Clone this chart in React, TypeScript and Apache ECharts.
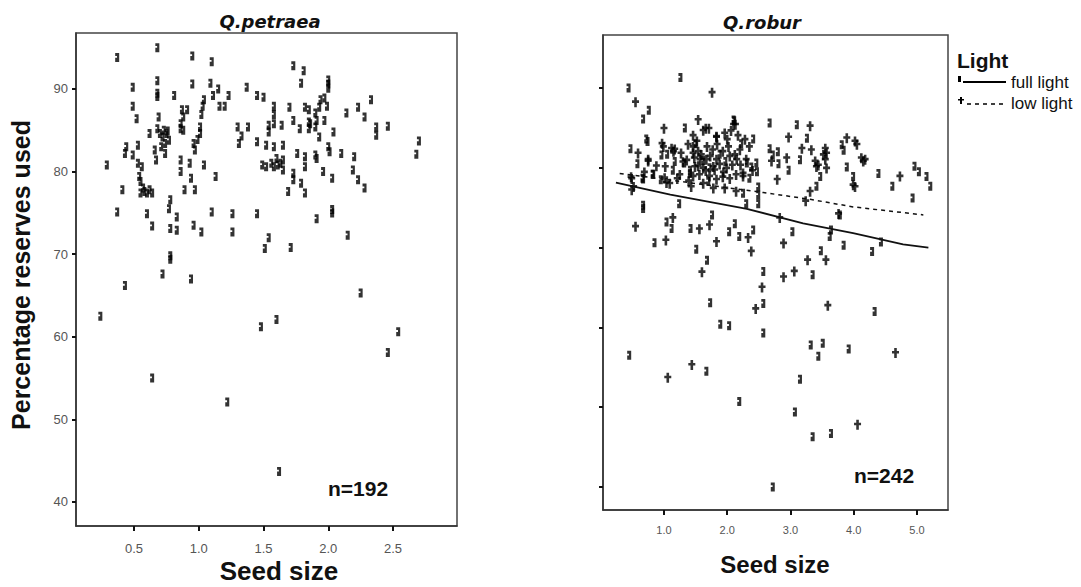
import React, { useEffect, useRef } from "react";
import * as echarts from "echarts";

// Q.petraea: [seed size, percentage reserves used]
const petraeaPoints: number[][] = [
  [0.37, 93.8], [0.68, 95.0], [0.95, 94.0], [1.10, 93.3], [1.73, 92.8], [1.81, 92.2], [1.79, 90.7], [2.00, 91.1], [2.00, 90.1], [2.00, 90.6],
  [0.49, 90.2], [0.68, 91.0], [0.68, 89.1], [0.68, 89.5], [0.81, 89.2], [0.95, 90.6], [1.09, 90.7], [1.11, 89.2], [1.15, 90.0], [1.23, 89.2],
  [1.37, 90.2], [1.45, 89.2], [1.50, 89.0], [1.04, 88.7], [1.03, 87.9], [1.02, 86.9], [1.16, 87.9], [1.20, 87.9], [0.49, 87.9], [0.52, 86.4],
  [0.69, 86.6], [0.87, 87.5], [0.91, 87.5], [0.88, 86.6], [0.86, 85.8], [1.58, 87.9], [1.58, 86.9], [1.70, 87.8], [1.82, 87.8], [1.85, 87.5],
  [1.94, 88.7], [1.97, 88.9], [1.93, 87.8], [1.99, 87.9], [2.14, 87.1], [2.23, 87.8], [2.28, 86.6], [2.33, 88.7], [2.37, 85.4], [2.37, 84.4],
  [2.46, 85.5], [2.70, 83.7], [2.68, 82.1], [0.62, 84.6], [0.68, 85.2], [0.70, 84.6], [0.73, 85.0], [0.75, 84.6], [0.77, 83.8], [0.74, 83.4],
  [0.71, 83.0], [0.86, 85.2], [0.88, 85.0], [1.01, 85.4], [1.01, 84.6], [0.96, 83.4], [0.97, 82.6], [1.30, 85.4], [1.38, 85.4], [1.33, 84.3],
  [1.31, 83.4], [1.54, 85.6], [1.58, 85.8], [1.64, 85.6], [1.54, 84.8], [1.73, 86.2], [1.78, 85.2], [1.85, 85.2], [1.90, 87.1], [1.91, 86.2],
  [1.90, 85.4], [1.97, 86.2], [1.93, 84.2], [2.04, 84.8], [1.45, 83.6], [1.52, 83.2], [1.58, 83.0], [1.65, 83.2], [0.44, 83.0], [0.43, 82.2],
  [0.49, 82.0], [0.53, 83.2], [0.66, 82.6], [0.67, 81.4], [0.74, 82.2], [0.29, 80.8], [0.53, 81.0], [0.56, 80.6], [0.54, 79.4], [0.55, 78.8],
  [0.86, 81.4], [0.86, 80.0], [0.93, 81.0], [0.94, 79.2], [1.04, 80.8], [1.13, 79.4], [1.49, 80.8], [1.52, 80.6], [1.58, 80.6], [1.60, 81.6],
  [1.63, 81.0], [1.65, 81.4], [1.65, 80.2], [1.73, 79.8], [1.73, 79.0], [1.76, 82.2], [1.82, 81.8], [1.82, 80.6], [1.90, 82.0], [1.91, 81.6],
  [2.00, 83.0], [2.01, 82.4], [2.10, 82.2], [2.20, 81.8], [1.96, 80.0], [2.03, 79.2], [2.19, 80.2], [2.23, 79.0], [2.28, 78.0], [1.69, 77.6],
  [1.79, 78.6], [1.82, 77.4], [0.41, 77.8], [0.55, 77.4], [0.60, 77.4], [0.64, 77.4], [0.57, 78.0], [0.89, 77.8], [0.97, 77.8], [0.78, 76.6],
  [0.77, 75.5], [0.37, 75.1], [0.60, 74.9], [0.64, 73.4], [0.83, 74.5], [0.78, 73.1], [0.83, 72.9], [0.96, 73.5], [1.02, 72.7], [1.10, 75.1],
  [1.26, 74.9], [1.26, 72.7], [1.45, 74.9], [1.54, 72.0], [1.51, 70.7], [1.71, 70.8], [1.91, 74.3], [2.03, 75.0], [2.03, 75.4], [2.15, 72.3],
  [0.78, 69.4], [0.78, 69.8], [0.72, 67.6], [0.94, 67.0], [0.43, 66.2], [2.25, 65.3], [0.24, 62.5], [1.48, 61.2], [1.60, 62.1], [2.54, 60.6],
  [2.46, 58.1], [0.64, 55.0], [1.22, 52.1], [1.62, 43.7],
  [0.72, 84.2], [0.76, 84.9], [0.99, 83.9], [1.56, 81.0], [1.61, 80.8], [1.85, 86.0], [1.86, 85.8], [0.58, 77.6], [0.62, 77.8]
];

// Q.robur, full light
const roburFullPoints: number[][] = [
  [1.26, 91.3], [0.44, 90.0], [0.76, 87.2], [0.67, 86.1], [2.11, 85.9], [2.67, 85.6], [1.33, 85.0], [2.41, 83.6], [0.72, 83.6], [0.47, 82.4],
  [0.96, 81.6], [1.17, 80.8], [2.46, 80.6], [2.47, 79.5], [2.67, 82.4], [2.72, 81.6], [1.14, 79.7], [1.41, 79.7], [2.35, 78.7], [0.82, 79.2],
  [0.67, 78.6], [2.25, 76.8], [2.49, 77.6], [2.49, 76.6], [2.49, 75.5], [0.67, 75.3], [1.24, 75.5], [1.41, 79.3], [1.70, 78.3], [2.31, 80.6],
  [2.10, 86.0], [0.74, 83.3], [0.83, 79.2], [0.95, 78.5], [0.66, 78.7],
  [3.10, 85.4], [3.26, 83.7], [3.15, 81.0], [2.97, 79.7], [3.47, 78.9], [3.41, 77.7], [3.81, 82.9], [3.84, 82.2], [3.89, 80.1], [3.99, 78.9],
  [4.39, 79.3], [4.61, 77.7], [4.96, 80.2], [5.03, 79.5], [5.15, 78.9], [5.21, 77.7], [4.93, 76.2], [2.80, 82.0], [2.81, 80.5],
  [0.67, 74.9], [2.30, 75.5], [1.04, 73.2], [1.12, 72.4], [1.42, 72.4], [1.76, 74.1], [2.03, 72.0], [2.12, 73.0], [2.19, 71.4], [2.41, 72.2],
  [1.51, 69.8], [0.85, 70.6], [1.68, 68.4], [2.57, 67.0], [2.57, 63.0], [1.73, 63.1], [1.89, 60.4], [2.03, 60.2], [2.57, 59.3],
  [3.78, 74.1], [3.03, 72.0], [3.64, 72.2], [3.62, 71.4], [3.84, 70.3], [4.29, 69.5], [4.43, 70.7], [3.48, 69.6], [3.35, 66.6], [4.33, 62.0],
  [3.32, 57.8], [3.51, 58.0], [3.44, 56.4], [3.92, 57.3], [0.45, 56.5], [1.67, 54.5], [3.15, 53.5], [2.19, 50.7], [3.07, 49.4], [3.35, 46.3],
  [3.64, 46.7], [2.72, 40.0],
  [1.50, 83.0], [1.62, 80.9], [1.88, 81.7], [2.22, 83.0], [1.32, 80.6], [1.05, 81.7], [1.97, 80.8], [0.58, 80.5], [2.38, 80.1], [1.72, 80.0]
];

// Q.robur, low light
const roburLowPoints: number[][] = [
  [1.76, 89.4], [0.55, 88.2], [1.54, 86.0], [2.13, 85.4], [1.00, 84.9], [1.46, 84.0], [1.62, 84.65], [1.71, 84.9], [1.83, 83.8], [2.00, 83.5],
  [2.17, 84.0], [2.28, 83.5], [2.35, 82.6], [0.59, 81.8], [0.97, 83.0], [1.12, 82.4], [1.17, 82.3], [0.75, 81.0], [1.30, 80.7],
  [1.46, 82.6], [1.54, 82.0], [1.48, 81.2], [1.59, 81.6], [1.67, 81.0], [1.77, 82.2], [1.83, 81.0], [1.54, 80.2], [1.62, 79.9], [1.93, 82.0],
  [2.04, 81.4], [2.12, 81.6], [2.20, 82.2], [2.30, 81.0], [2.70, 80.8], [1.02, 80.1], [1.25, 79.1], [1.46, 78.9], [1.56, 79.1], [1.72, 78.9],
  [1.83, 78.5], [1.93, 78.8], [2.04, 78.6], [2.14, 79.1], [2.25, 78.9], [0.48, 78.8], [0.52, 77.6], [1.01, 78.7], [1.09, 78.0], [1.43, 77.6],
  [1.62, 78.0], [1.78, 77.4], [1.96, 77.4], [2.14, 77.0],
  [1.46, 81.8], [1.57, 81.0], [1.73, 81.4], [1.78, 80.1], [1.49, 80.1], [2.15, 81.0], [2.25, 79.3], [2.02, 82.6], [2.10, 85.4], [1.66, 84.9],
  [1.83, 83.9], [1.15, 82.0], [0.99, 82.6], [0.75, 80.8], [1.04, 78.1], [0.49, 78.6], [0.49, 77.2],
  [3.31, 85.2], [2.97, 83.8], [3.18, 82.4], [3.33, 82.2], [2.94, 81.2], [3.55, 82.4], [3.57, 81.8], [3.55, 81.0], [3.52, 81.6], [3.39, 80.8],
  [3.44, 80.3], [3.41, 80.1], [3.57, 79.9], [3.89, 83.7], [4.02, 83.3], [4.05, 82.9], [4.12, 81.2], [4.18, 81.0], [4.15, 80.8], [3.99, 77.8],
  [4.02, 77.6], [4.73, 78.9], [3.31, 77.0], [3.24, 75.8], [2.79, 78.5],
  [0.55, 72.6], [1.14, 73.7], [1.56, 72.3], [1.72, 72.8], [1.83, 70.7], [2.33, 71.2], [2.38, 69.5], [1.03, 70.9], [1.60, 66.9], [2.55, 65.0],
  [2.45, 62.3], [2.83, 73.7], [3.76, 74.2], [2.89, 70.5], [3.56, 68.4], [3.27, 68.4], [3.06, 67.0], [2.89, 66.3], [3.59, 62.7],
  [4.66, 56.8], [1.44, 55.3], [1.06, 53.7], [4.06, 47.8],
  [1.36, 80.9], [1.38, 82.9], [1.68, 82.6], [1.88, 80.4], [1.99, 79.9], [2.08, 80.3], [1.27, 81.8], [1.39, 78.3], [1.66, 79.6], [1.84, 82.9],
  [1.96, 84.3], [0.88, 80.2], [0.69, 79.4], [1.21, 78.6], [2.21, 80.3], [1.52, 83.3], [1.94, 79.4], [2.40, 79.6], [2.06, 84.6], [1.80, 79.7]
];

// fitted lines
const roburFullFit: number[][] = [[0.24, 78.14], [1.10, 76.65], [2.31, 74.85], [3.20, 73.05], [3.99, 71.8], [4.78, 70.4], [5.18, 70.0]];
const roburLowFit: number[][] = [[0.30, 79.3], [2.57, 76.9], [3.31, 76.05], [3.99, 75.1], [5.10, 74.1]];

const petraeaXTicks = [0.5, 1.0, 1.5, 2.0, 2.5];
const roburXTicks = [1, 2, 3, 4, 5];
const yTicks = [40, 50, 60, 70, 80, 90];

const FONT = "'Liberation Sans', Arial, sans-serif";
const FULL_SYMBOL = "path://M0,0H4V9H0V4.6H1.8V2.8H0Z";
const LOW_SYMBOL = "path://M2.2,0H4.8V3H7V5.6H4.8V10H2.2V5.6H0V3H2.2Z";

export default function App() {
  const ref = useRef<HTMLDivElement>(null);

  useEffect(() => {
    if (!ref.current) return;
    const chart = echarts.init(ref.current, null, { renderer: "svg" });

    const axisLine = { show: true, onZero: false, lineStyle: { color: "#333", width: 1.5 } };

    const option: any = {
      animation: false,
      backgroundColor: "#fff",
      grid: [
        { left: 76, top: 33, width: 381, height: 493, show: true, borderColor: "#444", borderWidth: 1.5 },
        { left: 603, top: 35, width: 345, height: 475, show: true, borderColor: "#444", borderWidth: 1.5 },
      ],
      xAxis: [
        {
          type: "value", gridIndex: 0, min: 0.052, max: 2.994,
          axisLine,
          axisTick: { show: true, length: 5, customValues: petraeaXTicks, lineStyle: { color: "#111", width: 2 } },
          axisLabel: { customValues: petraeaXTicks, formatter: (v: number) => v.toFixed(1), fontSize: 13, color: "#555", margin: 16, fontFamily: FONT },
          splitLine: { show: false },
        },
        {
          type: "value", gridIndex: 1, min: 0.036, max: 5.49,
          axisLine,
          axisTick: { show: true, length: 5, customValues: roburXTicks, lineStyle: { color: "#111", width: 2 } },
          axisLabel: { customValues: roburXTicks, formatter: (v: number) => v.toFixed(1), fontSize: 11, color: "#555", margin: 14, fontFamily: FONT },
          splitLine: { show: false },
        },
      ],
      yAxis: [
        {
          type: "value", gridIndex: 0, min: 37.09, max: 96.78,
          axisLine,
          axisTick: { show: true, length: 4, customValues: yTicks, lineStyle: { color: "#111", width: 2 } },
          axisLabel: { customValues: yTicks, fontSize: 13, color: "#555", margin: 8, fontFamily: FONT },
          splitLine: { show: false },
        },
        {
          type: "value", gridIndex: 1, min: 37.12, max: 96.64,
          axisLine,
          axisTick: { show: true, length: 4, customValues: yTicks, lineStyle: { color: "#111", width: 2 } },
          axisLabel: { show: false },
          splitLine: { show: false },
        },
      ],
      series: [
        {
          name: "Q.petraea", type: "scatter", xAxisIndex: 0, yAxisIndex: 0,
          data: petraeaPoints, symbol: FULL_SYMBOL, symbolSize: [4, 9],
          itemStyle: { color: "#000" },
        },
        {
          name: "full light", type: "scatter", xAxisIndex: 1, yAxisIndex: 1,
          data: roburFullPoints, symbol: FULL_SYMBOL, symbolSize: [4, 9],
          itemStyle: { color: "#000" },
        },
        {
          name: "low light", type: "scatter", xAxisIndex: 1, yAxisIndex: 1,
          data: roburLowPoints, symbol: LOW_SYMBOL, symbolSize: [7, 10],
          itemStyle: { color: "#000" },
        },
        {
          name: "full light fit", type: "line", xAxisIndex: 1, yAxisIndex: 1,
          data: roburFullFit, symbol: "none", lineStyle: { color: "#111", width: 1.8 }, z: 5,
        },
        {
          name: "low light fit", type: "line", xAxisIndex: 1, yAxisIndex: 1,
          data: roburLowFit, symbol: "none", lineStyle: { color: "#111", width: 1.5, type: [4, 4] }, z: 5,
        },
      ],
      graphic: [
        { type: "text", x: 270, y: 21, style: { text: "Q.petraea", fontFamily: "'DejaVu Sans', sans-serif", fontWeight: "bold", fontStyle: "italic", fontSize: 18, fill: "#111", align: "center", verticalAlign: "middle" } },
        { type: "text", x: 762, y: 22, style: { text: "Q.robur", fontFamily: "'DejaVu Sans', sans-serif", fontWeight: "bold", fontStyle: "italic", fontSize: 18, fill: "#111", align: "center", verticalAlign: "middle" } },
        { type: "text", x: 21, y: 275, rotation: Math.PI / 2, style: { text: "Percentage reserves used", fontFamily: FONT, fontWeight: "bold", fontSize: 25, fill: "#111", align: "center", verticalAlign: "middle" } },
        { type: "text", x: 279, y: 571, style: { text: "Seed size", fontFamily: FONT, fontWeight: "bold", fontSize: 26, fill: "#111", align: "center", verticalAlign: "middle" } },
        { type: "text", x: 775, y: 564, style: { text: "Seed size", fontFamily: FONT, fontWeight: "bold", fontSize: 24, fill: "#111", align: "center", verticalAlign: "middle" } },
        { type: "text", x: 358, y: 488, style: { text: "n=192", fontFamily: FONT, fontWeight: "bold", fontSize: 21, fill: "#111", align: "center", verticalAlign: "middle" } },
        { type: "text", x: 884, y: 475, style: { text: "n=242", fontFamily: FONT, fontWeight: "bold", fontSize: 21, fill: "#111", align: "center", verticalAlign: "middle" } },
        // legend
        { type: "text", x: 957, y: 60, style: { text: "Light", fontFamily: FONT, fontWeight: "bold", fontSize: 21, fill: "#111", align: "left", verticalAlign: "middle" } },
        { type: "rect", shape: { x: 958, y: 76, width: 3, height: 6 }, style: { fill: "#000" } },
        { type: "line", shape: { x1: 963, y1: 82, x2: 1006, y2: 82 }, style: { stroke: "#000", lineWidth: 2 } },
        { type: "text", x: 1011, y: 82, style: { text: "full light", fontFamily: FONT, fontSize: 17, fill: "#111", align: "left", verticalAlign: "middle" } },
        { type: "polygon", shape: { points: [[960, 97], [962, 97], [962, 99], [964, 99], [964, 100.5], [962, 100.5], [962, 104], [960, 104], [960, 100.5], [958, 100.5], [958, 99], [960, 99]] }, style: { fill: "#000" } },
        { type: "line", shape: { x1: 967, y1: 104, x2: 1006, y2: 104 }, style: { stroke: "#000", lineWidth: 1.5, lineDash: [4, 4] } },
        { type: "text", x: 1011, y: 103, style: { text: "low light", fontFamily: FONT, fontSize: 17, fill: "#111", align: "left", verticalAlign: "middle" } },
      ],
    };

    chart.setOption(option);
    return () => chart.dispose();
  }, []);

  return (
    <div
      ref={ref}
      style={{ position: "fixed", left: 0, top: 0, width: 1081, height: 587, background: "#fff" }}
    />
  );
}
